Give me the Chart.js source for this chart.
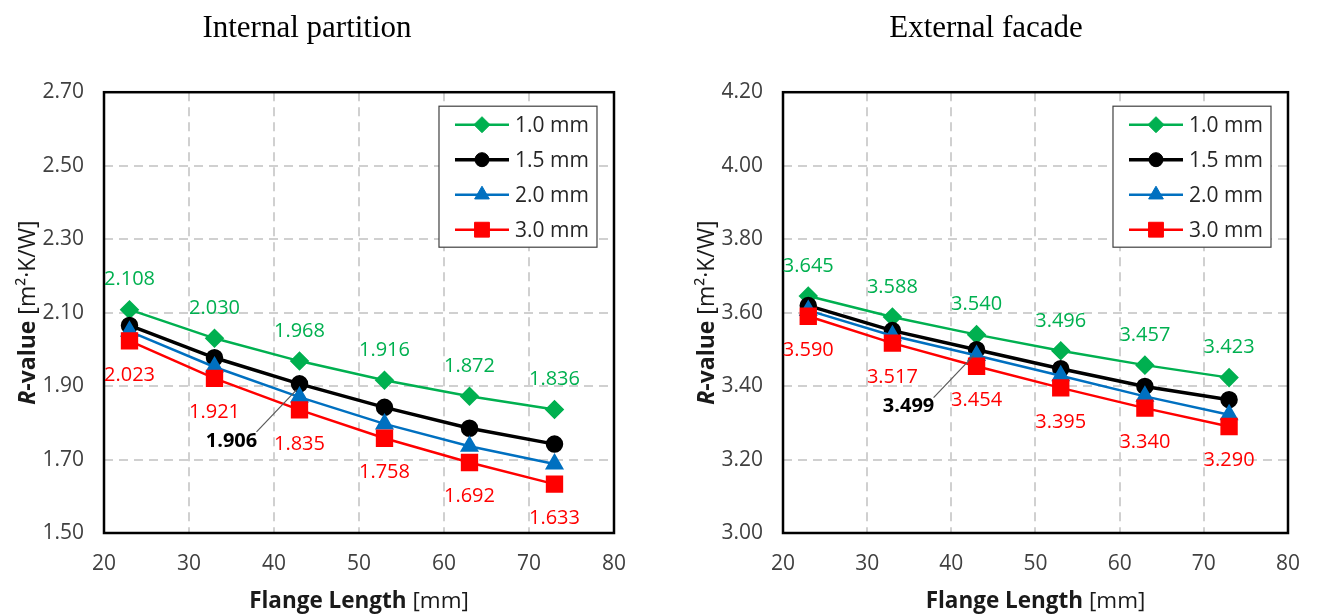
<!DOCTYPE html>
<html>
<head>
<meta charset="utf-8">
<title>R-value vs flange length</title>
<script src="https://cdn.jsdelivr.net/npm/chart.js@4.4.1/dist/chart.umd.min.js"></script>
<style>
  body { margin: 0; background: #fff; }
  #wrap { position: relative; width: 1318px; height: 616px; }
  canvas { position: absolute; top: 0; }
</style>
</head>
<body>
<div id="wrap">
  <canvas id="internal" width="644" height="616" style="left:0"></canvas>
  <canvas id="external" width="634" height="616" style="left:684px"></canvas>
</div>
<script>
// flange lengths (mm) shared by both panels
const flangeLength = [23, 33, 43, 53, 63, 73];
const thickness = ['1.0 mm', '1.5 mm', '2.0 mm', '3.0 mm'];

// internal partition, R-value [m2.K/W]
const internal10 = [2.108, 2.030, 1.968, 1.916, 1.872, 1.836];
const internal15 = [2.065, 1.977, 1.906, 1.842, 1.785, 1.742];
const internal20 = [2.049, 1.952, 1.870, 1.797, 1.736, 1.688];
const internal30 = [2.023, 1.921, 1.835, 1.758, 1.692, 1.633];

// external facade, R-value [m2.K/W]
const external10 = [3.645, 3.588, 3.540, 3.496, 3.457, 3.423];
const external15 = [3.619, 3.551, 3.499, 3.447, 3.399, 3.363];
const external20 = [3.606, 3.537, 3.483, 3.428, 3.372, 3.322];
const external30 = [3.590, 3.517, 3.454, 3.395, 3.340, 3.290];

const xTicks = [20, 30, 40, 50, 60, 70, 80];
const internalTicks = [1.50, 1.70, 1.90, 2.10, 2.30, 2.50, 2.70];
const externalTicks = [3.00, 3.20, 3.40, 3.60, 3.80, 4.00, 4.20];

const sans = "'Open Sans', sans-serif";
const GREEN = '#00b050', BLACK = '#000000', BLUE = '#0070c0', RED = '#ff0000';

function points(values) {
  return flangeLength.map((x, i) => ({x: x, y: values[i]}));
}

function makeDatasets(s10, s15, s20, s30) {
  return [
    {label: thickness[0], data: points(s10), borderColor: GREEN, backgroundColor: GREEN,
     borderWidth: 2.5, pointStyle: 'rectRot', pointRadius: 8, order: 3, valueLabel: 'above'},
    {label: thickness[1], data: points(s15), borderColor: BLACK, backgroundColor: BLACK,
     borderWidth: 3.5, pointStyle: 'circle', pointRadius: 7, order: 2, calloutIndex: 2},
    {label: thickness[2], data: points(s20), borderColor: BLUE, backgroundColor: BLUE,
     borderWidth: 2.5, pointStyle: 'triangle', pointRadius: 8.5, order: 1},
    {label: thickness[3], data: points(s30), borderColor: RED, backgroundColor: RED,
     borderWidth: 2.5, pointStyle: 'rect', pointRadius: 10.5, order: 0, valueLabel: 'below'}
  ];
}

// black box round the plot area
const frame = {
  id: 'frame',
  beforeDatasetsDraw(chart) {
    const {ctx, chartArea: a} = chart;
    ctx.save();
    ctx.strokeStyle = '#000';
    ctx.lineWidth = 2.5;
    ctx.strokeRect(a.left, a.top, a.right - a.left, a.bottom - a.top);
    ctx.restore();
  }
};

// numbers printed next to the markers
const valueLabels = {
  id: 'valueLabels',
  afterDatasetsDraw(chart) {
    const ctx = chart.ctx;
    ctx.save();
    ctx.textAlign = 'center';
    ctx.textBaseline = 'middle';
    chart.data.datasets.forEach((ds, i) => {
      const meta = chart.getDatasetMeta(i);
      meta.data.forEach((pt, j) => {
        const v = ds.data[j].y.toFixed(3);
        if (ds.valueLabel) {
          ctx.font = '20px ' + sans;
          ctx.fillStyle = ds.borderColor;
          ctx.fillText(v, pt.x, pt.y + (ds.valueLabel === 'above' ? -30 : 34));
        } else if (ds.calloutIndex === j) {
          ctx.strokeStyle = '#595959';
          ctx.lineWidth = 1.2;
          ctx.beginPath();
          ctx.moveTo(pt.x - 43, pt.y + 48);
          ctx.lineTo(pt.x - 3, pt.y + 6);
          ctx.stroke();
          ctx.font = 'bold 20px ' + sans;
          ctx.fillStyle = '#000';
          ctx.fillText(v, pt.x - 68, pt.y + 57);
        }
      });
    });
    ctx.restore();
  }
};

// boxed legend in the upper right corner of the plot
const boxLegend = {
  id: 'boxLegend',
  afterDraw(chart) {
    const {ctx, chartArea: a} = chart;
    const w = 158, h = 141;
    const left = a.right - 17 - w, top = a.top + 14;
    ctx.save();
    ctx.fillStyle = '#fff';
    ctx.fillRect(left, top, w, h);
    ctx.strokeStyle = '#404040';
    ctx.lineWidth = 1.2;
    ctx.strokeRect(left, top, w, h);
    chart.data.datasets.forEach((ds, i) => {
      const y = top + 18.5 + i * 35;
      ctx.strokeStyle = ds.borderColor;
      ctx.lineWidth = ds.borderWidth;
      ctx.beginPath();
      ctx.moveTo(left + 16, y);
      ctx.lineTo(left + 70, y);
      ctx.stroke();
      ctx.fillStyle = ds.backgroundColor;
      ctx.lineWidth = 1;
      Chart.helpers.drawPoint(ctx, {pointStyle: ds.pointStyle, radius: ds.pointRadius, borderWidth: 1, rotation: 0}, left + 43, y);
      ctx.fillStyle = '#262626';
      ctx.font = '21px ' + sans;
      ctx.textAlign = 'left';
      ctx.textBaseline = 'middle';
      ctx.fillText(ds.label, left + 76, y + 1);
    });
    ctx.restore();
  }
};

// axis titles with mixed bold / regular runs
function drawRuns(ctx, runs, x, y) {
  let total = 0;
  runs.forEach(r => { ctx.font = r.font; total += ctx.measureText(r.text).width; });
  let cx = x - total / 2;
  runs.forEach(r => {
    ctx.font = r.font;
    ctx.fillText(r.text, cx, y);
    cx += ctx.measureText(r.text).width;
  });
}

const axisTitles = {
  id: 'axisTitles',
  afterDraw(chart) {
    const {ctx, chartArea: a} = chart;
    ctx.save();
    ctx.fillStyle = '#1a1a1a';
    ctx.textAlign = 'left';
    ctx.textBaseline = 'middle';
    drawRuns(ctx, [
      {text: 'Flange Length', font: 'bold 22.5px ' + sans},
      {text: ' [mm]', font: '22.5px ' + sans}
    ], (a.left + a.right) / 2, a.bottom + 69);
    ctx.translate(a.left - 76, (a.top + a.bottom) / 2);
    ctx.rotate(-Math.PI / 2);
    drawRuns(ctx, [
      {text: 'R', font: 'italic bold 23px ' + sans},
      {text: '-value', font: 'bold 23px ' + sans},
      {text: ' [m\u00b2\u00b7K/W]', font: '23px ' + sans}
    ], 0, 0);
    ctx.restore();
  }
};

function makeChart(id, title, datasets, yTicks, yWidth) {
  return new Chart(document.getElementById(id), {
    type: 'line',
    data: {datasets: datasets},
    options: {
      responsive: false,
      animation: false,
      layout: {padding: {left: 0, right: 30, top: 0, bottom: 0}},
      elements: {line: {tension: 0}, point: {borderWidth: 1}},
      plugins: {
        legend: {display: false},
        tooltip: {enabled: false},
        title: {
          display: true,
          text: title,
          color: '#000',
          font: {family: "'Liberation Serif', serif", size: 31, weight: 'normal'},
          padding: {top: 10, bottom: 45}
        }
      },
      scales: {
        x: {
          type: 'linear',
          min: xTicks[0],
          max: xTicks[xTicks.length - 1],
          afterBuildTicks: s => { s.ticks = xTicks.map(v => ({value: v})); },
          afterFit: s => { s.height = 83; },
          ticks: {color: '#404040', font: {family: sans, size: 21}, padding: 18},
          grid: {color: '#d0d0d0', lineWidth: 2, drawTicks: false},
          border: {display: false, dash: [9, 6]}
        },
        y: {
          min: yTicks[0],
          max: yTicks[yTicks.length - 1],
          afterBuildTicks: s => { s.ticks = yTicks.map(v => ({value: v})); },
          afterFit: s => { s.width = yWidth; },
          ticks: {color: '#404040', font: {family: sans, size: 21}, padding: 20,
                  callback: v => v.toFixed(2)},
          grid: {color: '#d0d0d0', lineWidth: 2, drawTicks: false},
          border: {display: false, dash: [9, 6]}
        }
      }
    },
    plugins: [frame, valueLabels, boxLegend, axisTitles]
  });
}

makeChart('internal', 'Internal partition',
  makeDatasets(internal10, internal15, internal20, internal30), internalTicks, 104);
makeChart('external', 'External facade',
  makeDatasets(external10, external15, external20, external30), externalTicks, 99);
</script>
</body>
</html>
